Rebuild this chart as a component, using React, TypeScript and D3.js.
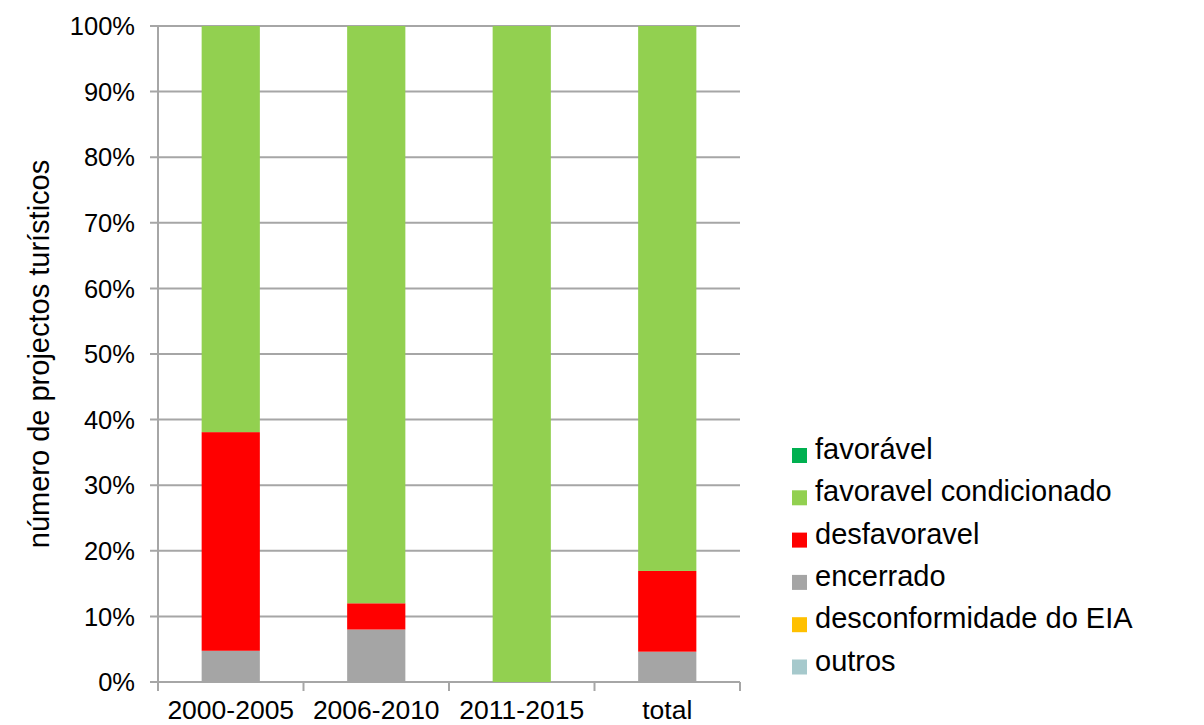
import React from "react";
import * as d3 from "d3";

// Categories (periods) and the share of each opinion type, in percent
const categories = ["2000-2005", "2006-2010", "2011-2015", "total"];
const encerrado = [4.76, 8.0, 0, 4.62];
const desfavoravel = [33.33, 4.0, 0, 12.31];
const favoravelCondicionado = [61.91, 88.0, 100, 83.07];
const favoravel = [0, 0, 0, 0];
const desconformidade = [0, 0, 0, 0];
const outros = [0, 0, 0, 0];

const yTicks = [0, 10, 20, 30, 40, 50, 60, 70, 80, 90, 100];

const seriesNames = [
  "favorável",
  "favoravel condicionado",
  "desfavoravel",
  "encerrado",
  "desconformidade do EIA",
  "outros",
];
const seriesColors = ["#00B050", "#92D050", "#FF0000", "#A5A5A5", "#FFC000", "#A6C9CC"];

// stacking order from the bottom up
const stackOrder = [
  { key: "encerrado", values: encerrado, color: "#A5A5A5" },
  { key: "desfavoravel", values: desfavoravel, color: "#FF0000" },
  { key: "desconformidade", values: desconformidade, color: "#FFC000" },
  { key: "outros", values: outros, color: "#A6C9CC" },
  { key: "favoravelCondicionado", values: favoravelCondicionado, color: "#92D050" },
  { key: "favoravel", values: favoravel, color: "#00B050" },
];

const W = 1204;
const H = 725;
const plot = { left: 158, right: 740, top: 26, bottom: 682 };
const FONT = "'Liberation Sans', Arial, sans-serif";
const GRID = "#A6A6A6";

export default function App() {
  const x = d3
    .scaleBand<string>()
    .domain(categories)
    .range([plot.left, plot.right])
    .paddingInner(0.6)
    .paddingOuter(0.3);
  const step = x.step();
  const y = d3.scaleLinear().domain([0, 100]).range([plot.bottom, plot.top]);

  const rows = categories.map((c, i) => {
    const r: Record<string, number | string> = { cat: c };
    stackOrder.forEach((s) => (r[s.key] = s.values[i]));
    return r;
  });
  const stack = d3.stack<Record<string, number | string>>().keys(stackOrder.map((s) => s.key));
  const layers = stack(rows as any);

  const boundaries = d3.range(categories.length + 1).map((i) => plot.left + i * step);

  return (
    <div style={{ position: "absolute", left: 0, top: 0 }}>
      <svg width={W} height={H} style={{ display: "block", background: "#fff" }}>
        {/* gridlines and y ticks */}
        {yTicks.map((t) => (
          <g key={t}>
            <line x1={plot.left - 8} x2={plot.right} y1={y(t)} y2={y(t)} stroke={GRID} strokeWidth={2} />
            <text
              x={135}
              y={y(t)}
              dy="0.36em"
              textAnchor="end"
              fontFamily={FONT}
              fontSize={25.5}
              fill="#000"
            >
              {t}%
            </text>
          </g>
        ))}
        {/* y axis line */}
        <line x1={plot.left} x2={plot.left} y1={plot.top} y2={plot.bottom} stroke={GRID} strokeWidth={2} />
        {/* x axis tick marks */}
        {boundaries.map((bx, i) => (
          <line key={i} x1={bx} x2={bx} y1={plot.bottom} y2={plot.bottom + 9} stroke={GRID} strokeWidth={2} />
        ))}

        {/* stacked bars */}
        {layers.map((layer, li) => (
          <g key={layer.key} fill={stackOrder[li].color}>
            {layer.map((d, i) =>
              d[1] - d[0] > 0 ? (
                <rect
                  key={i}
                  x={x(categories[i])!}
                  width={x.bandwidth()}
                  y={y(d[1])}
                  height={y(d[0]) - y(d[1])}
                />
              ) : null
            )}
          </g>
        ))}

        {/* category labels */}
        {categories.map((c) => (
          <text
            key={c}
            x={x(c)! + x.bandwidth() / 2}
            y={719}
            textAnchor="middle"
            fontFamily={FONT}
            fontSize={26.5}
            fill="#000"
          >
            {c}
          </text>
        ))}

        {/* y axis title */}
        <text
          transform={`translate(49, ${(plot.top + plot.bottom) / 2}) rotate(-90)`}
          textAnchor="middle"
          fontFamily={FONT}
          fontSize={29}
          fill="#000"
        >
          número de projectos turísticos
        </text>

        {/* legend */}
        {seriesNames.map((name, i) => {
          const base = 459 + i * 42.3;
          return (
            <g key={name}>
              <rect x={792} y={base - 11} width={15} height={15} fill={seriesColors[i]} />
              <text x={815} y={base} fontFamily={FONT} fontSize={29} fill="#000">
                {name}
              </text>
            </g>
          );
        })}
      </svg>
    </div>
  );
}
